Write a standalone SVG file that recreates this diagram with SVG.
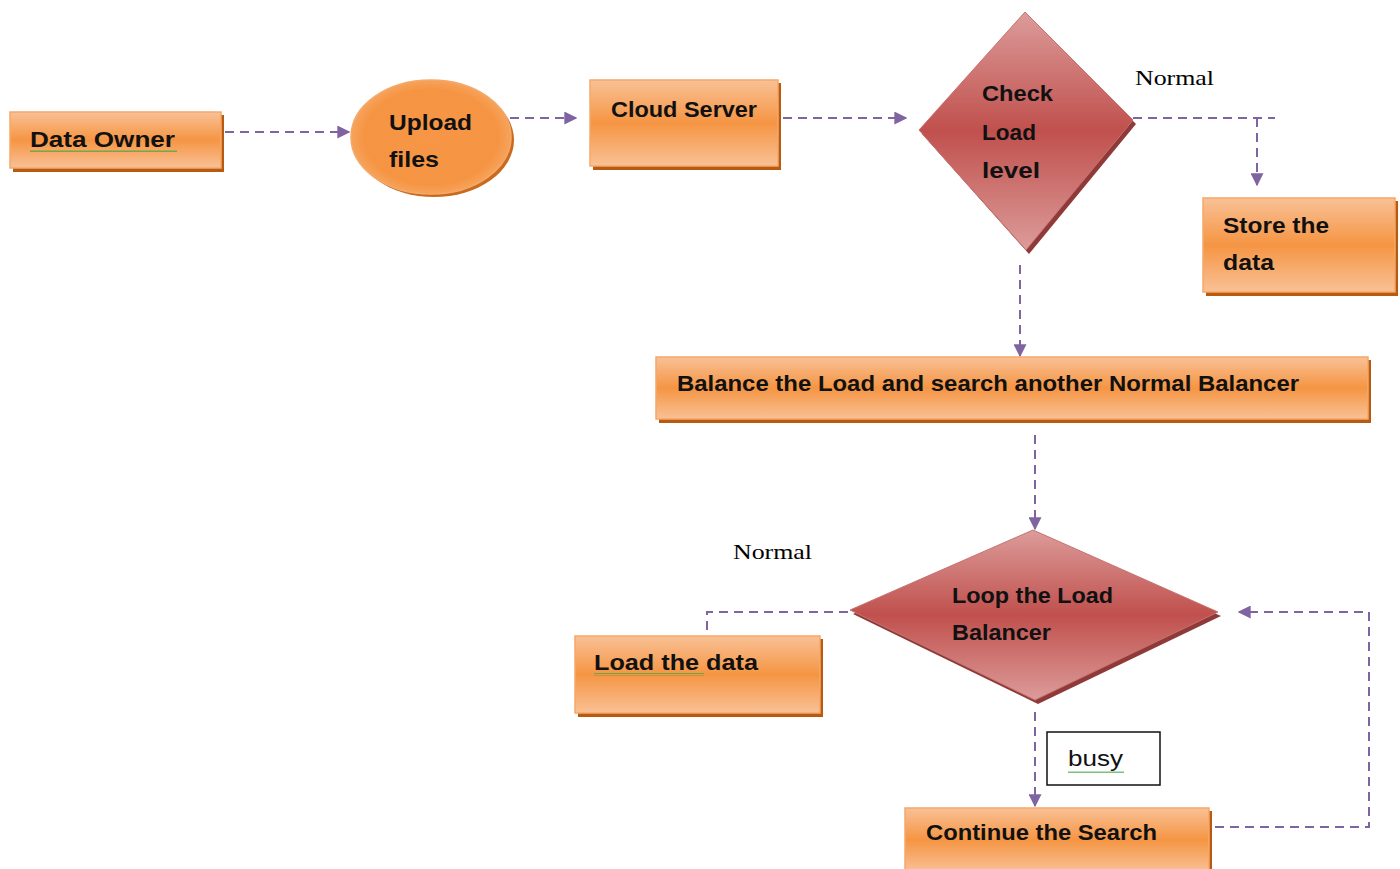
<svg xmlns="http://www.w3.org/2000/svg" width="1400" height="869" viewBox="0 0 1400 869">
<defs>
<linearGradient id="og" x1="0" y1="0" x2="0" y2="1">
<stop offset="0" stop-color="#f9c196"/>
<stop offset="0.5" stop-color="#f59543"/>
<stop offset="1" stop-color="#f9c196"/>
</linearGradient>
<radialGradient id="eg" cx="0.5" cy="0.5" r="0.6">
<stop offset="0" stop-color="#f79646"/>
<stop offset="0.7" stop-color="#f59543"/>
<stop offset="1" stop-color="#f8b47a"/>
</radialGradient>
<linearGradient id="rg" x1="0" y1="0" x2="0" y2="1">
<stop offset="0" stop-color="#dc9c9a"/>
<stop offset="0.5" stop-color="#c0504d"/>
<stop offset="1" stop-color="#dc9c9a"/>
</linearGradient>
<marker id="ah" viewBox="0 0 10 10" refX="9" refY="5" markerWidth="6.5" markerHeight="6.5" orient="auto" markerUnits="strokeWidth">
<path d="M0,0 L10,5 L0,10 z" fill="#8064a2"/>
</marker>
<pattern id="wave" width="4" height="3" patternUnits="userSpaceOnUse"><path d="M0,2 L1,0.5 L2,2 L3,0.5 L4,2" stroke="#3fa33f" stroke-width="0.8" fill="none"/></pattern>
</defs>
<style>
.box{fill:url(#og);stroke:#f5a86a;stroke-width:1.5}
.sh{fill:#b85a10}
.dia{fill:url(#rg);stroke:#c77270;stroke-width:1}
.dsh{fill:#8f3a38}
.t{font-family:"Liberation Sans","Open Sans",sans-serif;font-weight:bold;font-size:22px;fill:#111}
.n{font-family:"Liberation Serif","Times New Roman",serif;font-size:21px;fill:#000}
.c{fill:none;stroke:#8064a2;stroke-width:2;stroke-dasharray:9 6}
.sq{fill:url(#wave)}
</style>

<g id="connectors">
<line class="c" x1="225" y1="132" x2="349" y2="132" marker-end="url(#ah)"/>
<line class="c" x1="510" y1="118" x2="576" y2="118" marker-end="url(#ah)"/>
<line class="c" x1="783" y1="118" x2="906" y2="118" marker-end="url(#ah)"/>
<polyline class="c" points="1133,118 1275,118"/>
<line class="c" x1="1257" y1="118" x2="1257" y2="185" marker-end="url(#ah)"/>
<line class="c" x1="1020" y1="265" x2="1020" y2="356" marker-end="url(#ah)"/>
<line class="c" x1="1035" y1="435" x2="1035" y2="529" marker-end="url(#ah)"/>
<polyline class="c" points="848,612 707,612 707,636"/>
<line class="c" x1="1035" y1="712" x2="1035" y2="806" marker-end="url(#ah)"/>
<polyline class="c" points="1215,827 1369,827 1369,612 1239,612" marker-end="url(#ah)"/>
</g>

<g id="data-owner">
<rect class="sh" x="13" y="115" width="211" height="57"/>
<rect class="box" x="10" y="112" width="211" height="56"/>
<text class="t" x="30" y="147" textLength="145" lengthAdjust="spacingAndGlyphs">Data  Owner</text>
<rect class="sq" x="30" y="149" width="147" height="3"/>
</g>

<g id="upload-files">
<ellipse cx="434" cy="140" rx="80" ry="57" fill="#c96a1c"/>
<ellipse cx="431" cy="137" rx="80" ry="57" fill="url(#eg)" stroke="#f5a86a" stroke-width="1.5"/>
<text class="t" x="389" y="130" textLength="83" lengthAdjust="spacingAndGlyphs">Upload</text>
<text class="t" x="389" y="167" textLength="50" lengthAdjust="spacingAndGlyphs">files</text>
</g>

<g id="cloud-server">
<rect class="sh" x="593" y="83" width="188" height="87"/>
<rect class="box" x="590" y="80" width="188" height="86"/>
<text class="t" x="611" y="117" textLength="146" lengthAdjust="spacingAndGlyphs">Cloud Server</text>
</g>

<g id="check-load-level">
<polygon class="dsh" points="1028,16 1136,124 1029,254 922,134"/>
<polygon class="dia" points="1025,12 1133,120 1026,250 919,130"/>
<text class="t" x="982" y="101" textLength="71" lengthAdjust="spacingAndGlyphs">Check</text>
<text class="t" x="982" y="140" textLength="54" lengthAdjust="spacingAndGlyphs">Load</text>
<text class="t" x="982" y="178" textLength="58" lengthAdjust="spacingAndGlyphs">level</text>
</g>

<text class="n" x="1135" y="85" textLength="79" lengthAdjust="spacingAndGlyphs">Normal</text>

<g id="store-data">
<rect class="sh" x="1206" y="201" width="192" height="95"/>
<rect class="box" x="1203" y="198" width="192" height="94"/>
<text class="t" x="1223" y="233" textLength="106" lengthAdjust="spacingAndGlyphs">Store the</text>
<text class="t" x="1223" y="270" textLength="51" lengthAdjust="spacingAndGlyphs">data</text>
</g>

<g id="balance">
<rect class="sh" x="659" y="360" width="712" height="63"/>
<rect class="box" x="656" y="357" width="712" height="62"/>
<text class="t" x="677" y="391" textLength="622" lengthAdjust="spacingAndGlyphs">Balance the Load and search another Normal Balancer</text>
</g>

<g id="loop-balancer">
<polygon class="dsh" points="1036,534 1221,616 1038,704 853,614"/>
<polygon class="dia" points="1033,530 1218,612 1035,700 850,610"/>
<text class="t" x="952" y="603" textLength="161" lengthAdjust="spacingAndGlyphs">Loop the Load</text>
<text class="t" x="952" y="640" textLength="99" lengthAdjust="spacingAndGlyphs">Balancer</text>
</g>

<text class="n" x="733" y="559" textLength="79" lengthAdjust="spacingAndGlyphs">Normal</text>

<g id="load-data">
<rect class="sh" x="578" y="639" width="245" height="78"/>
<rect class="box" x="575" y="636" width="245" height="77"/>
<text class="t" x="594" y="670" textLength="164" lengthAdjust="spacingAndGlyphs">Load  the data</text>
<rect class="sq" x="594" y="673" width="110" height="3"/>
</g>

<g id="busy">
<rect x="1047" y="732" width="113" height="53" fill="#fff" stroke="#111" stroke-width="1.5"/>
<text font-family="Liberation Sans, sans-serif" font-size="22" fill="#111" x="1068" y="766" textLength="55" lengthAdjust="spacingAndGlyphs">busy</text>
<rect class="sq" x="1068" y="770" width="56" height="3"/>
</g>

<g id="continue-search">
<rect class="sh" x="908" y="811" width="304" height="62"/>
<rect class="box" x="905" y="808" width="304" height="64"/>
<text class="t" x="926" y="840" textLength="231" lengthAdjust="spacingAndGlyphs">Continue the Search</text>
</g>
</svg>
